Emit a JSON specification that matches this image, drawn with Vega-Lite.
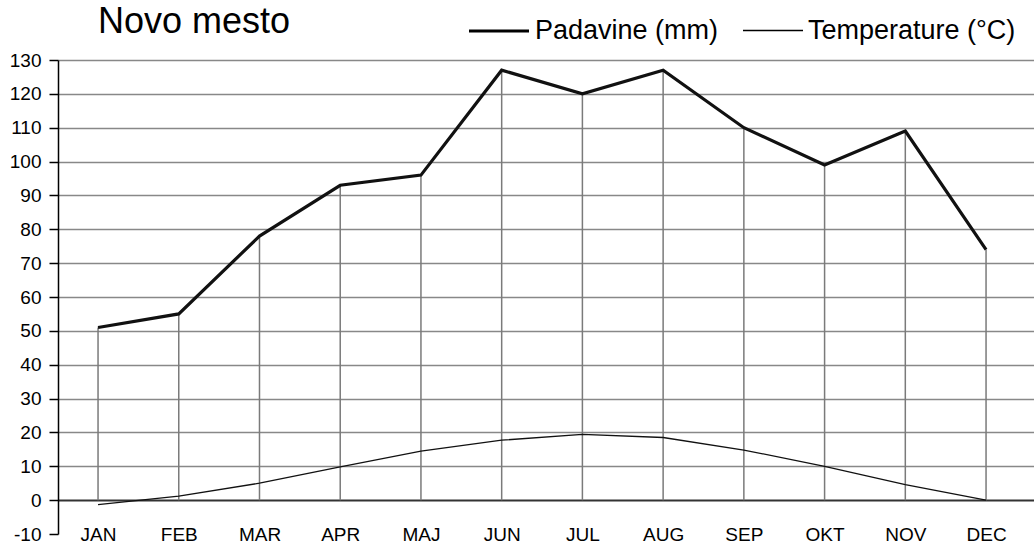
{
  "$schema": "https://vega.github.io/schema/vega-lite/v6.json",
  "width": 976,
  "height": 474,
  "autosize": {"type": "none"},
  "padding": {"left": 58, "top": 60, "right": 0, "bottom": 11},
  "background": "white",
  "config": {
    "font": "Liberation Sans",
    "view": {"stroke": null},
    "axisY": {"labelOverlap": false, "labelFlush": false}
  },
  "title": {
    "text": "Novo mesto",
    "anchor": "start",
    "frame": "group",
    "fontSize": 36,
    "fontWeight": "normal",
    "font": "Liberation Sans",
    "color": "#000",
    "baseline": "alphabetic",
    "offset": -70,
    "dx": 40
  },
  "data": {
    "values": [
      {"month": "JAN", "Padavine": 51, "Temperature": -1.3},
      {"month": "FEB", "Padavine": 55, "Temperature": 1.2},
      {"month": "MAR", "Padavine": 78, "Temperature": 5.0},
      {"month": "APR", "Padavine": 93, "Temperature": 9.8},
      {"month": "MAJ", "Padavine": 96, "Temperature": 14.5},
      {"month": "JUN", "Padavine": 127, "Temperature": 17.7},
      {"month": "JUL", "Padavine": 120, "Temperature": 19.4},
      {"month": "AUG", "Padavine": 127, "Temperature": 18.5},
      {"month": "SEP", "Padavine": 110, "Temperature": 14.8},
      {"month": "OKT", "Padavine": 99, "Temperature": 10.0},
      {"month": "NOV", "Padavine": 109, "Temperature": 4.6},
      {"month": "DEC", "Padavine": 74, "Temperature": 0.0}
    ]
  },
  "layer": [
    {
      "mark": {"type": "rule", "color": "#7a7a7a", "strokeWidth": 1.5},
      "encoding": {
        "x": {
          "field": "month",
          "type": "ordinal",
          "sort": null,
          "scale": {"type": "point", "padding": 0.545, "align": 0.455},
          "axis": {
            "title": null,
            "domain": false,
            "ticks": false,
            "tickSize": 0,
            "grid": false,
            "labelAngle": 0,
            "labelFontSize": 19,
            "labelColor": "#000",
            "labelBaseline": "middle",
            "labelPadding": 0
          }
        },
        "y": {
          "field": "Padavine",
          "type": "quantitative",
          "scale": {"domain": [-10, 130], "nice": false, "zero": false},
          "axis": {
            "title": null,
            "values": [-10, 0, 10, 20, 30, 40, 50, 60, 70, 80, 90, 100, 110, 120, 130],
            "labelExpr": "datum.value + ''",
            "labelOverlap": false,
            "labelFlush": false,
            "tickSize": 9,
            "tickColor": "#000",
            "tickWidth": 1.5,
            "domainColor": "#000",
            "domainWidth": 1.5,
            "labelFontSize": 19,
            "labelColor": "#000",
            "labelPadding": 8,
            "grid": true,
            "gridColor": {"condition": {"test": "datum.value === 0", "value": "#333"}, "value": "#888"},
            "gridWidth": {"condition": {"test": "datum.value === 0", "value": 2}, "value": 1.5},
            "gridOpacity": {"condition": {"test": "datum.value === -10", "value": 0}, "value": 1}
          }
        },
        "y2": {"datum": 0}
      }
    },
    {
      "transform": [{"fold": ["Padavine", "Temperature"], "as": ["series", "value"]}],
      "mark": {"type": "line", "color": "#111", "strokeJoin": "miter"},
      "encoding": {
        "x": {"field": "month", "type": "ordinal", "sort": null},
        "y": {
          "field": "value",
          "type": "quantitative",
          "axis": {
            "title": null,
            "values": [-10, 0, 10, 20, 30, 40, 50, 60, 70, 80, 90, 100, 110, 120, 130],
            "labelOverlap": false
          }
        },
        "detail": {"field": "series"},
        "strokeWidth": {
          "field": "series",
          "type": "nominal",
          "scale": {"domain": ["Padavine", "Temperature"], "range": [3.2, 1.3]},
          "legend": {
            "title": null,
            "orient": "none",
            "legendX": 409,
            "legendY": -61,
            "direction": "horizontal",
            "symbolType": "stroke",
            "symbolSize": 3600,
            "symbolStrokeColor": "#000",
            "labelFontSize": 27,
            "labelColor": "#000",
            "labelOffset": 4,
            "columnPadding": 21,
            "labelLimit": 0,
            "labelExpr": "datum.label === 'Padavine' ? 'Padavine (mm)' : 'Temperature (°C)'"
          }
        }
      }
    }
  ]
}
